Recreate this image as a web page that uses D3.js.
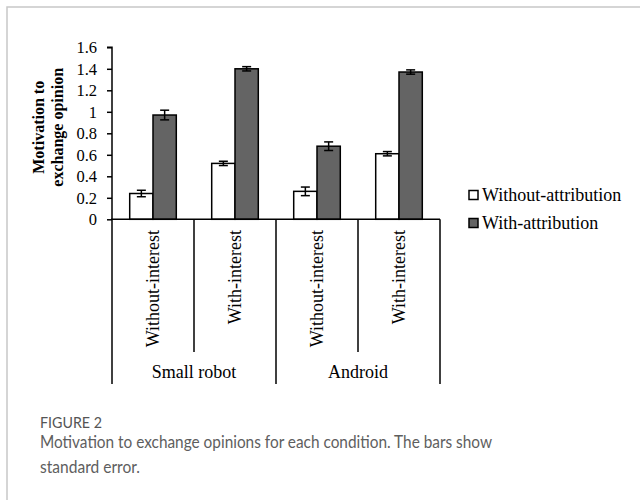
<!DOCTYPE html>
<html>
<head>
<meta charset="utf-8">
<script src="https://cdn.jsdelivr.net/npm/d3@7"></script>
<style>
  html, body { margin: 0; padding: 0; background: #fff; }
  svg { display: block; }
</style>
</head>
<body>
<svg id="chart" width="640" height="500"></svg>
<script>
const groups = ["Small robot", "Android"];
const conditions = ["Without-interest", "With-interest"];
const categories = [
  {group: "Small robot", cond: "Without-interest"},
  {group: "Small robot", cond: "With-interest"},
  {group: "Android", cond: "Without-interest"},
  {group: "Android", cond: "With-interest"}
];
const seriesNames = ["Without-attribution", "With-attribution"];
const withoutAttribution = [0.24, 0.52, 0.26, 0.61];
const withoutAttributionSE = [0.03, 0.02, 0.04, 0.02];
const withAttribution = [0.97, 1.40, 0.68, 1.37];
const withAttributionSE = [0.045, 0.02, 0.04, 0.02];
const yTicks = [0, 0.2, 0.4, 0.6, 0.8, 1, 1.2, 1.4, 1.6];
const yTitle = ["Motivation to", "exchange opinion"];
const captionLabel = "FIGURE 2";
const captionLines = ["Motivation to exchange opinions for each condition. The bars show", "standard error."];

(function () {
const colors = ["#ffffff", "#646464"];
const svg = d3.select("#chart");
const serif = "'Liberation Serif', 'Times New Roman', serif";

// frame
svg.append("path").attr("d", "M7,500 V7 H640").attr("fill", "none")
  .attr("stroke", "#c8c8c8").attr("stroke-width", 1.5);

const pLeft = 112, pRight = 440, pTop = 47.3, pBottom = 219.3;
const x0 = d3.scaleBand().domain(d3.range(categories.length)).range([pLeft, pRight]).paddingInner(0).paddingOuter(0);
const x1 = d3.scaleBand().domain(seriesNames).range([0, x0.bandwidth()]).paddingInner(0).paddingOuter(0.76);
const y = d3.scaleLinear().domain([0, 1.6]).range([pBottom, pTop]);

const series = [
  {name: seriesNames[0], values: withoutAttribution, se: withoutAttributionSE},
  {name: seriesNames[1], values: withAttribution, se: withAttributionSE}
];

// bars
series.forEach((s, si) => {
  const g = svg.append("g");
  g.selectAll("rect").data(s.values).join("rect")
    .attr("x", (d, i) => x0(i) + x1(s.name))
    .attr("y", d => y(d))
    .attr("width", x1.bandwidth())
    .attr("height", d => y(0) - y(d))
    .attr("fill", colors[si])
    .attr("stroke", "#000").attr("stroke-width", 1.5);
});
// error bars
series.forEach((s) => {
  const g = svg.append("g").attr("stroke", "#000").attr("stroke-width", 1.5);
  s.values.forEach((v, i) => {
    const cx = x0(i) + x1(s.name) + x1.bandwidth() / 2;
    const hi = y(v + s.se[i]), lo = y(v - s.se[i]);
    g.append("line").attr("x1", cx).attr("x2", cx).attr("y1", hi).attr("y2", lo);
    g.append("line").attr("x1", cx - 4.5).attr("x2", cx + 4.5).attr("y1", hi).attr("y2", hi);
    g.append("line").attr("x1", cx - 4.5).attr("x2", cx + 4.5).attr("y1", lo).attr("y2", lo);
  });
});

// y axis
const yAxis = d3.axisLeft(y).tickValues(yTicks).tickFormat(d3.format("~g")).tickSize(5).tickPadding(10);
const ya = svg.append("g").attr("transform", `translate(${pLeft},0)`).call(yAxis);
ya.select(".domain").attr("d", `M-5,${pTop}H0V${pBottom}`).attr("stroke", "#000").attr("stroke-width", 1.5);
ya.selectAll(".tick line").attr("stroke", "#000").attr("stroke-width", 1.5);
ya.selectAll("text").attr("font-family", serif).attr("font-size", 16.5).attr("fill", "#000");

// y title
const yt = svg.append("text").attr("transform", `translate(38,${(pTop + pBottom) / 2 - 6}) rotate(-90)`)
  .attr("text-anchor", "middle").attr("font-family", serif).attr("font-size", 16).attr("font-weight", "bold");
yTitle.forEach((t, i) => yt.append("tspan").attr("x", 0).attr("dy", i === 0 ? "0.35em" : 19).text(t));

// category axis
const xa = svg.append("g").attr("stroke", "#000").attr("stroke-width", 1.5);
xa.append("line").attr("x1", pLeft - 1).attr("x2", pRight).attr("y1", pBottom).attr("y2", pBottom);
const x2 = d3.scaleBand().domain(groups).range([pLeft, pRight]);
groups.forEach(gname => {
  xa.append("line").attr("x1", x2(gname)).attr("x2", x2(gname)).attr("y1", pBottom).attr("y2", 384);
});
xa.append("line").attr("x1", pRight).attr("x2", pRight).attr("y1", pBottom).attr("y2", 384);
categories.forEach((c, i) => {
  if (c.cond !== conditions[0]) {
    xa.append("line").attr("x1", x0(i)).attr("x2", x0(i)).attr("y1", pBottom).attr("y2", 352);
  }
});
categories.forEach((c, i) => {
  svg.append("text")
    .attr("transform", `translate(${x0(i) + x0.bandwidth() / 2},230) rotate(-90)`)
    .attr("text-anchor", "end").attr("dy", "0.35em")
    .attr("font-family", serif).attr("font-size", 18).text(c.cond);
});
groups.forEach(gname => {
  svg.append("text").attr("x", x2(gname) + x2.bandwidth() / 2).attr("y", 378)
    .attr("text-anchor", "middle").attr("font-family", serif).attr("font-size", 18).text(gname);
});

// legend
seriesNames.forEach((n, i) => {
  const ly = 195 + i * 28;
  svg.append("rect").attr("x", 469).attr("y", ly - 4.5).attr("width", 9).attr("height", 9)
    .attr("fill", colors[i]).attr("stroke", "#000").attr("stroke-width", 1.5);
  svg.append("text").attr("x", 482).attr("y", ly).attr("dy", "0.35em")
    .attr("font-family", serif).attr("font-size", 18).text(n);
});

// caption
const sans = "Lato, 'Open Sans', sans-serif";
svg.append("text").attr("x", 40).attr("y", 428).attr("font-family", sans).attr("font-size", 14.5)
  .attr("fill", "#555").attr("textLength", 62).attr("lengthAdjust", "spacingAndGlyphs").text(captionLabel);
const capLens = [452, 100];
captionLines.forEach((t, i) => {
  svg.append("text").attr("x", 40).attr("y", 448 + i * 25).attr("font-family", sans)
    .attr("font-size", 18).attr("fill", "#5e5e5e")
    .attr("textLength", capLens[i]).attr("lengthAdjust", "spacingAndGlyphs").text(t);
});
})();
</script>
</body>
</html>
